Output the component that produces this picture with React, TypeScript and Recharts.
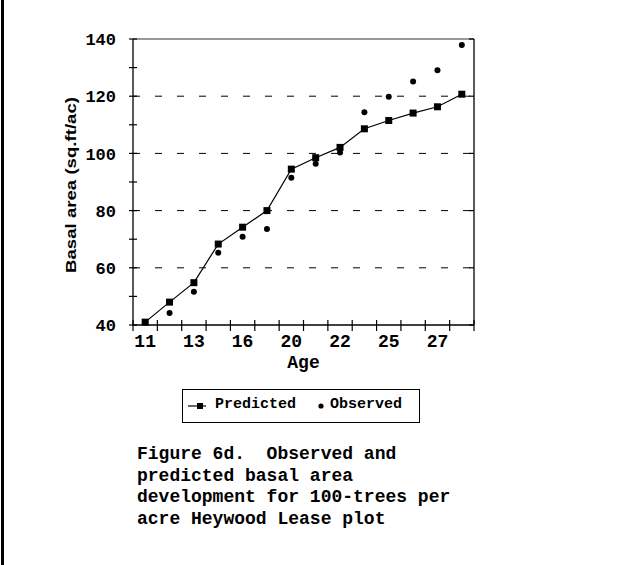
import React from 'react';
import { LineChart, Line, XAxis, YAxis, ReferenceLine } from 'recharts';

// Stand age (years) for each measurement
const ages = [11, 12, 13, 15, 16, 18, 20, 21, 22, 24, 25, 26, 27, 28];
// Ages that carry a printed label on the x axis
const labeledAges = [11, 13, 16, 20, 22, 25, 27];
// Basal area (sq.ft/ac), model prediction
const predicted = [41, 48, 54.8, 68.3, 74.2, 80, 94.5, 98.5, 102.1, 108.6, 111.5, 114.1, 116.3, 120.7];
// Basal area (sq.ft/ac), field measurement
const observed = [41, 44.2, 51.6, 65.3, 70.9, 73.6, 91.5, 96.4, 100.3, 114.4, 119.8, 125.1, 129.1, 137.9];
// Y axis ticks (labels every 20)
const yTicks = [40, 50, 60, 70, 80, 90, 100, 110, 120, 130, 140];
const gridValues = [60, 80, 100, 120];
const yDomain = [40, 140];

const data = ages.map((age, i) => ({ age, predicted: predicted[i], observed: observed[i] }));

const CHART_W = 618;
const CHART_H = 400;
const MARGIN = { top: 39, right: 134, bottom: 35, left: 0 };
const Y_W = 133;
const YR_W = 10;
const X_H = 40;
const PLOT_W = CHART_W - MARGIN.left - MARGIN.right - Y_W - YR_W;
const BAND = PLOT_W / ages.length;

const MONO = "'Liberation Mono', 'Courier New', Courier, monospace";
const SANS = "'Liberation Sans', Arial, Helvetica, sans-serif";

const YTick = (props: any) => {
  const { x, y, payload } = props;
  const v = payload.value;
  return (
    <g>
      <line x1={x - 4} x2={x + 4} y1={y} y2={y} stroke="#000" strokeWidth={1.2} />
      {v % 20 === 0 && (
        <text x={x - 17} y={y} dy="0.36em" textAnchor="end" fontFamily={MONO} fontWeight="bold" fontSize={17} fill="#000">
          {v}
        </text>
      )}
    </g>
  );
};

const RightTick = (props: any) => {
  const { x, y, payload } = props;
  if (payload.value % 20 !== 0) return <g />;
  return <line x1={x - 5} x2={x} y1={y} y2={y} stroke="#000" strokeWidth={1.2} />;
};

const XTick = (props: any) => {
  const { x, y, payload, index } = props;
  const left = x - BAND / 2;
  const right = x + BAND / 2;
  return (
    <g>
      <line x1={left} x2={left} y1={y - 5} y2={y + 6} stroke="#000" strokeWidth={1.2} />
      {index === ages.length - 1 && (
        <line x1={right} x2={right} y1={y - 5} y2={y + 6} stroke="#000" strokeWidth={1.2} />
      )}
      {labeledAges.includes(payload.value) && (
        <text x={x} y={y + 22} textAnchor="middle" fontFamily={MONO} fontWeight="bold" fontSize={18} fill="#000">
          {payload.value}
        </text>
      )}
    </g>
  );
};

const SquareDot = (props: any) => {
  const { cx, cy, index } = props;
  return <rect key={`sq-${index}`} x={cx - 3.5} y={cy - 3.5} width={7} height={7} fill="#000" />;
};

const YTitle = (props: any) => {
  const vb = props.viewBox;
  const cx = 76;
  const cy = vb.y + vb.height / 2 + 3;
  return (
    <text
      x={cx}
      y={cy}
      transform={`rotate(-90, ${cx}, ${cy})`}
      textAnchor="middle"
      fontFamily={SANS}
      fontWeight="bold"
      fontSize={15}
      textLength={176}
      lengthAdjust="spacingAndGlyphs"
      fill="#000"
    >
      Basal area (sq.ft/ac)
    </text>
  );
};

const XTitle = (props: any) => {
  const vb = props.viewBox;
  return (
    <text x={vb.x + vb.width / 2} y={vb.y + 43} textAnchor="middle" fontFamily={MONO} fontWeight="bold" fontSize={18} fill="#000">
      Age
    </text>
  );
};

export default function App() {
  return (
    <div style={{ position: 'absolute', left: 0, top: 0, width: 618, height: 565, background: '#fff', overflow: 'hidden' }}>
      <div style={{ position: 'absolute', left: 1, top: 0, width: 3, height: 565, background: '#000' }} />
      <div style={{ position: 'absolute', left: 0, top: 0 }}>
        <LineChart width={CHART_W} height={CHART_H} data={data} margin={MARGIN}>
          <XAxis
            dataKey="age"
            type="category"
            interval={0}
            height={X_H}
            padding={{ left: BAND / 2, right: BAND / 2 }}
            tickLine={false}
            tickSize={0}
            tickMargin={0}
            tick={<XTick />}
            axisLine={{ stroke: '#000', strokeWidth: 1.3 }}
            label={<XTitle />}
          />
          <YAxis
            type="number"
            domain={yDomain}
            ticks={yTicks}
            interval={0}
            width={Y_W}
            tickLine={false}
            tickSize={0}
            tickMargin={0}
            tick={<YTick />}
            axisLine={{ stroke: '#000', strokeWidth: 1.3 }}
            label={<YTitle />}
          />
          <YAxis
            yAxisId="right"
            orientation="right"
            type="number"
            domain={yDomain}
            ticks={yTicks}
            interval={0}
            width={YR_W}
            tickLine={false}
            tickSize={0}
            tickMargin={0}
            tick={<RightTick />}
            axisLine={{ stroke: '#000', strokeWidth: 1.3 }}
          />
          {gridValues.map((v) => (
            <ReferenceLine key={v} y={v} stroke="#000" strokeWidth={1} strokeDasharray="7 15" />
          ))}
          <ReferenceLine y={140} stroke="#333" strokeWidth={1.2} />
          <Line
            dataKey="predicted"
            stroke="#000"
            strokeWidth={1.2}
            dot={<SquareDot />}
            isAnimationActive={false}
          />
          <Line
            dataKey="observed"
            yAxisId="right"
            stroke="none"
            dot={{ r: 3, fill: '#000', stroke: 'none' }}
            activeDot={false}
            isAnimationActive={false}
          />
        </LineChart>
      </div>

      {/* legend */}
      <div style={{ position: 'absolute', left: 182, top: 389, width: 236, height: 32, border: '1px solid #000', fontFamily: MONO, fontWeight: 'bold', fontSize: 15, color: '#000' }}>
        <svg style={{ position: 'absolute', left: 5, top: 12 }} width={18} height={8}>
          <line x1={0} x2={18} y1={4} y2={4} stroke="#000" strokeWidth={1.2} />
          <rect x={9} y={1} width={6} height={6} fill="#000" />
        </svg>
        <span style={{ position: 'absolute', left: 32, top: 6, whiteSpace: 'pre' }}>Predicted</span>
        <svg style={{ position: 'absolute', left: 134, top: 12 }} width={8} height={8}>
          <circle cx={4} cy={4} r={2.6} fill="#000" />
        </svg>
        <span style={{ position: 'absolute', left: 147, top: 6, whiteSpace: 'pre' }}>Observed</span>
      </div>

      {/* caption */}
      <div style={{ position: 'absolute', left: 137, top: 444, fontFamily: MONO, fontWeight: 'bold', fontSize: 18, lineHeight: '21.5px', color: '#000', whiteSpace: 'pre' }}>
        {'Figure 6d.  Observed and\npredicted basal area\ndevelopment for 100-trees per\nacre Heywood Lease plot'}
      </div>
    </div>
  );
}
